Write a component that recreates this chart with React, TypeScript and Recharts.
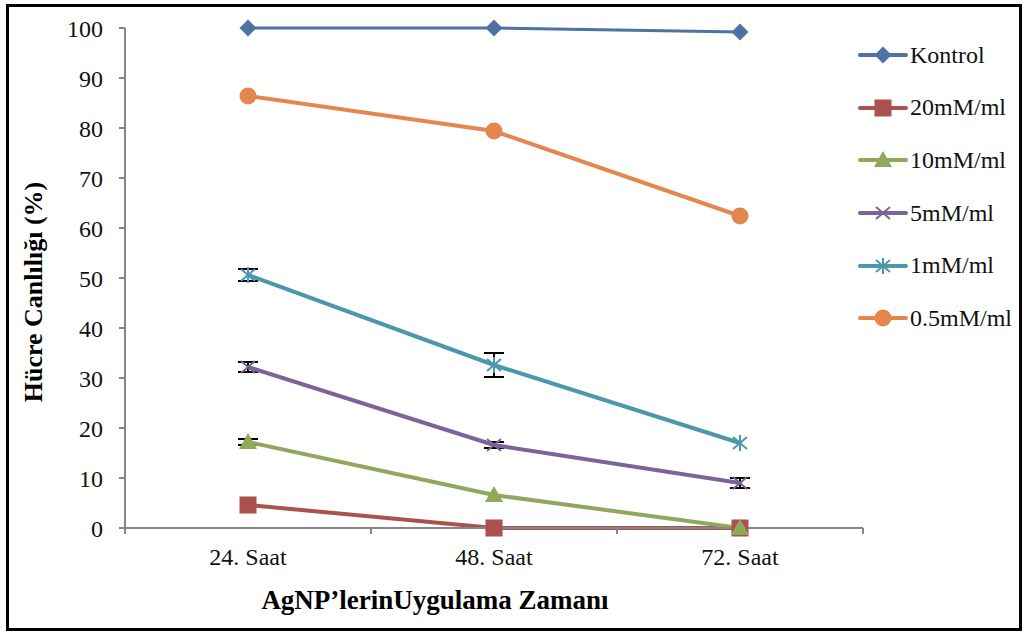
import React from "react";
import { LineChart, Line, XAxis, YAxis, Legend, ErrorBar } from "recharts";

const categories = ["24. Saat", "48. Saat", "72. Saat"];
const yTicks = [0, 10, 20, 30, 40, 50, 60, 70, 80, 90, 100];

const kontrol = [100, 100, 99.2];
const mm20 = [4.6, 0, 0];
const mm10 = [17.2, 6.6, 0];
const mm5 = [32.2, 16.6, 9];
const mm1 = [50.6, 32.6, 17];
const mm05 = [86.4, 79.4, 62.4];

const mm10Err = [0.6, 0, 0];
const mm5Err = [1, 0.6, 1];
const mm1Err = [1.2, 2.4, 0];

const FONT = '"Liberation Serif", "Times New Roman", serif';
const AXIS = "#868686";

type Shape = "diamond" | "square" | "triangle" | "x" | "star" | "circle";

const series: { key: string; name: string; color: string; width: number; shape: Shape; err?: string }[] = [
  { key: "kontrol", name: "Kontrol", color: "#4e73a2", width: 3, shape: "diamond" },
  { key: "mm20", name: "20mM/ml", color: "#a9524f", width: 4, shape: "square" },
  { key: "mm10", name: "10mM/ml", color: "#8fa85b", width: 4, shape: "triangle", err: "mm10Err" },
  { key: "mm5", name: "5mM/ml", color: "#7a6498", width: 4, shape: "x", err: "mm5Err" },
  { key: "mm1", name: "1mM/ml", color: "#4b97ab", width: 4, shape: "star", err: "mm1Err" },
  { key: "mm05", name: "0.5mM/ml", color: "#e4874f", width: 4, shape: "circle" },
];

const data = categories.map((c, i) => ({
  x: i + 0.5,
  kontrol: kontrol[i],
  mm20: mm20[i],
  mm10: mm10[i],
  mm5: mm5[i],
  mm1: mm1[i],
  mm05: mm05[i],
  mm10Err: mm10Err[i],
  mm5Err: mm5Err[i],
  mm1Err: mm1Err[i],
}));

function Marker({ cx, cy, shape, color }: { cx: number; cy: number; shape: Shape; color: string }) {
  switch (shape) {
    case "diamond":
      return <polygon points={`${cx},${cy - 8.5} ${cx + 8.5},${cy} ${cx},${cy + 8.5} ${cx - 8.5},${cy}`} fill={color} />;
    case "square":
      return <rect x={cx - 8.5} y={cy - 8.5} width={17} height={17} fill={color} />;
    case "triangle":
      return <polygon points={`${cx},${cy - 9} ${cx + 9},${cy + 7} ${cx - 9},${cy + 7}`} fill={color} />;
    case "x":
      return (
        <g stroke={color} strokeWidth={2}>
          <line x1={cx - 7} y1={cy - 6} x2={cx + 7} y2={cy + 6} />
          <line x1={cx - 7} y1={cy + 6} x2={cx + 7} y2={cy - 6} />
        </g>
      );
    case "star":
      return (
        <g stroke={color} strokeWidth={2}>
          <line x1={cx - 7} y1={cy - 6} x2={cx + 7} y2={cy + 6} />
          <line x1={cx - 7} y1={cy + 6} x2={cx + 7} y2={cy - 6} />
          <line x1={cx} y1={cy - 8} x2={cx} y2={cy + 8} />
        </g>
      );
    default:
      return <circle cx={cx} cy={cy} r={8.5} fill={color} />;
  }
}

const XTick = (props: any) => {
  const { x, y, payload } = props;
  const v = payload.value as number;
  if (Number.isInteger(v)) {
    return <line x1={x} x2={x} y1={y - 6} y2={y} stroke={AXIS} strokeWidth={2} />;
  }
  return (
    <text x={x} y={y + 31} textAnchor="middle" fontFamily={FONT} fontSize={24} fill="#111">
      {categories[Math.floor(v)]}
    </text>
  );
};

const LegendBox = () => (
  <div style={{ fontFamily: FONT, fontSize: 24, color: "#111" }}>
    {series.map((s) => (
      <div key={s.key} style={{ height: 52.6, display: "flex", alignItems: "center" }}>
        <svg width={50} height={20} style={{ marginRight: 2 }}>
          <line x1={2} x2={48} y1={10} y2={10} stroke={s.color} strokeWidth={4} strokeLinecap="round" />
          <Marker cx={25} cy={10} shape={s.shape} color={s.color} />
        </svg>
        <span>{s.name}</span>
      </div>
    ))}
  </div>
);

export default function App() {
  return (
    <div style={{ position: "absolute", left: 0, top: 0, width: 1027, height: 632, background: "#fff" }}>
      <div
        style={{
          position: "absolute",
          left: 6,
          top: 4,
          width: 1016,
          height: 627,
          border: "3px solid #000",
          boxSizing: "border-box",
        }}
      />
      <LineChart
        width={1027}
        height={632}
        data={data}
        margin={{ top: 28, right: 164, bottom: 0, left: 0 }}
        style={{ position: "absolute", left: 0, top: 0 }}
      >
        <XAxis
          dataKey="x"
          type="number"
          domain={[0, 3]}
          ticks={[0, 0.5, 1, 1.5, 2, 2.5, 3]}
          interval={0}
          height={104}
          tickLine={false}
          tickSize={6}
          tickMargin={0}
          axisLine={{ stroke: AXIS, strokeWidth: 2 }}
          tick={<XTick />}
          label={(p: any) => {
            const vb = p.viewBox;
            return (
              <text x={435} y={vb.y + 81} textAnchor="middle" fontFamily={FONT} fontWeight="bold" fontSize={27} fill="#000">
                AgNP’lerinUygulama Zamanı
              </text>
            );
          }}
        />
        <YAxis
          type="number"
          domain={[0, 100]}
          ticks={yTicks}
          interval={0}
          width={125}
          tickSize={6}
          tickMargin={16}
          axisLine={{ stroke: AXIS, strokeWidth: 2 }}
          tickLine={{ stroke: AXIS, strokeWidth: 2 }}
          tick={{ fontFamily: FONT, fontSize: 24, fill: "#111" }}
          label={() => (
            <text
              x={33}
              y={292}
              textAnchor="middle"
              dominantBaseline="central"
              transform="rotate(-90 33 292)"
              fontFamily={FONT}
              fontWeight="bold"
              fontSize={26}
              fill="#000"
            >
              Hücre Canlılığı (%)
            </text>
          )}
        />
        <Legend
          layout="vertical"
          align="center"
          verticalAlign="middle"
          wrapperStyle={{ left: 858, top: 29, width: 169 }}
          content={() => <LegendBox />}
        />
        {series.map((s) => (
          <Line
            key={s.key}
            dataKey={s.key}
            name={s.name}
            stroke={s.color}
            strokeWidth={s.width}
            isAnimationActive={false}
            activeDot={false}
            dot={(p: any) => <Marker key={`${s.key}-${p.index}`} cx={p.cx} cy={p.cy} shape={s.shape} color={s.color} />}
          >
            {s.err ? <ErrorBar dataKey={s.err} width={10} strokeWidth={2} stroke="#000" direction="y" isAnimationActive={false} /> : null}
          </Line>
        ))}
      </LineChart>
    </div>
  );
}
